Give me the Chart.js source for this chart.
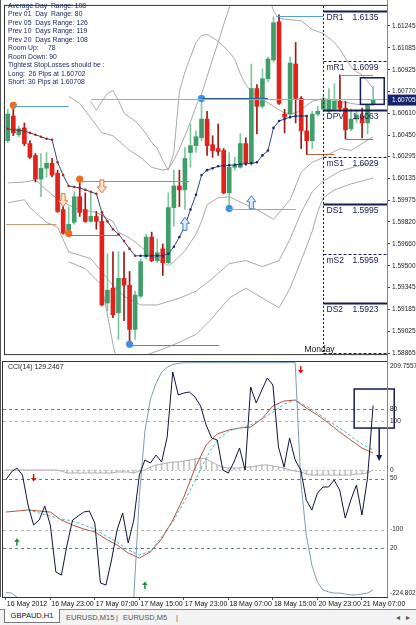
<!DOCTYPE html>
<html>
<head>
<meta charset="utf-8">
<title>GBPAUD,H1</title>
<script src="https://cdn.jsdelivr.net/npm/chart.js@4.4.1/dist/chart.umd.min.js"></script>
<style>
  html, body { margin: 0; padding: 0; background: #fff; }
  #wrap { position: relative; width: 416px; height: 625px; overflow: hidden; font-family: "Liberation Sans", Arial, sans-serif; }
  #priceChart { position: absolute; left: 0; top: 0; }
  #cciChart { position: absolute; left: 0; top: 360px; }
  #info { position: absolute; left: 8px; top: 2px; font-size: 6.8px; line-height: 8.45px; color: #14245a; white-space: pre; }
  #tabs { position: absolute; left: 0; top: 609px; width: 416px; height: 16px; background: #f3f3f3; border-top: 1px solid #8a8a8a; font-size: 7.5px; color: #555; }
  #tabs span { position: absolute; top: 3px; white-space: nowrap; }
  #tabs .active { top: -1px; left: 4px; width: 54px; height: 13px; background: #fff; border: 1px solid #777; border-top: none; color: #111; text-align: center; line-height: 13px; }
</style>
</head>
<body>
<div id="wrap">
  <canvas id="priceChart" width="416" height="360"></canvas>
  <canvas id="cciChart" width="416" height="250"></canvas>
  <div id="info">Average Day  Range: 108
Prev 01  Day  Range: 80
Prev 05  Days Range: 126
Prev 10  Days Range: 119
Prev 20  Days Range: 108
Room Up:     78
Room Down: 90
Tightest StopLosses should be :
Long:  26 Pips at 1.60702
Short: 30 Pips at 1.60708</div>
  <div id="tabs">
    <span class="active">GBPAUD,H1</span>
    <span style="left:66px">EURUSD,M15</span>
    <span style="left:116px">|</span>
    <span style="left:123px">EURUSD,M5</span>
    <span style="left:176px">|</span>
    <span style="left:396px">&#9666;</span>
    <span style="left:406px">&#9656;</span>
  </div>
</div>
<script>
// ---------- data (GBPAUD H1, 16 May 15:00 .. 21 May 10:00) ----------
const barCount = 69; // 67 bars + chart shift
const categories = Array.from({length: barCount}, (_, i) => i);

const xTickBars = [0, 8, 16, 24, 32, 40, 48, 56, 64];
const xTickText = ['16 May 2012', '16 May 23:00', '17 May 07:00', '17 May 15:00', '17 May 23:00',
                   '18 May 07:00', '18 May 15:00', '20 May 23:00', '21 May 07:00'];

const opens = [1.60410,1.60589,1.60453,1.60503,1.60389,1.60303,1.60131,1.60210,1.60246,1.60174,
  1.59910,1.59739,1.59817,1.60003,1.59910,1.59824,1.59860,1.59824,1.59231,1.59339,
  1.59160,1.59410,1.59360,1.59039,1.59281,1.59567,1.59710,1.59539,1.59624,1.59524,
  1.59924,1.60081,1.60053,1.60324,1.60374,1.60431,1.60567,1.60381,1.60353,1.60339,
  1.60031,1.60217,1.60217,1.60389,1.60246,1.60789,1.60660,1.60860,1.60996,1.61274,
  1.60603,1.60603,1.60967,1.60717,1.60481,1.60410,1.60603,1.60639,1.60624,1.60639,
  1.60696,1.60646,1.60496,1.60567,1.60589,1.60539,1.60674];
const highs = [1.60639,1.60667,1.60517,1.60539,1.60410,1.60317,1.60317,1.60324,1.60281,1.60196,
  1.59931,1.59931,1.60039,1.60131,1.60031,1.60031,1.59896,1.59874,1.59589,1.59603,
  1.59603,1.59603,1.59460,1.59317,1.59553,1.59731,1.59746,1.59696,1.59660,1.60031,
  1.60196,1.60196,1.60360,1.60531,1.60481,1.60717,1.60624,1.60446,1.60531,1.60353,
  1.60324,1.60289,1.60460,1.60431,1.60967,1.60817,1.60931,1.61017,1.61310,1.61324,
  1.60639,1.61017,1.61124,1.60731,1.60589,1.60624,1.60660,1.60731,1.60789,1.60824,
  1.60889,1.60696,1.60639,1.60624,1.60646,1.60674,1.60803];
const lows = [1.60396,1.60446,1.60439,1.60374,1.60281,1.60110,1.60003,1.60146,1.60146,1.59889,
  1.59731,1.59717,1.59803,1.59860,1.59817,1.59817,1.59767,1.59210,1.59174,1.59124,
  1.58967,1.59103,1.58931,1.58967,1.59267,1.59553,1.59531,1.59524,1.59431,1.59517,
  1.59789,1.59931,1.59910,1.60217,1.60324,1.60410,1.60303,1.60289,1.60303,1.60024,
  1.59924,1.60196,1.60210,1.60231,1.60231,1.60460,1.60646,1.60839,1.60981,1.60674,
  1.60467,1.60589,1.60539,1.60353,1.60310,1.60353,1.60589,1.60624,1.60610,1.60624,
  1.60624,1.60424,1.60481,1.60539,1.60431,1.60460,1.60667];
const closes = [1.60603,1.60467,1.60496,1.60389,1.60289,1.60131,1.60210,1.60246,1.60160,1.59896,
  1.59739,1.59803,1.60003,1.59889,1.59824,1.59860,1.59824,1.59217,1.59324,1.59146,
  1.59410,1.59360,1.59039,1.59289,1.59531,1.59710,1.59539,1.59596,1.59524,1.59924,
  1.60081,1.60053,1.60281,1.60374,1.60439,1.60567,1.60374,1.60339,1.60331,1.60031,
  1.60217,1.60231,1.60389,1.60246,1.60789,1.60660,1.60860,1.61003,1.61267,1.60681,
  1.60581,1.60974,1.60717,1.60481,1.60410,1.60603,1.60624,1.60710,1.60710,1.60696,
  1.60646,1.60489,1.60567,1.60596,1.60539,1.60674,1.60705];

// trailing line with dots (bars 0..54); red dots while falling
const trailLine = [1.60496,1.60489,1.60485,1.60481,1.60467,1.60453,1.60439,1.60424,1.60417,1.60253,
  1.60160,1.60081,1.60074,1.60067,1.60053,1.60039,1.60024,1.59889,1.59824,1.59767,
  1.59731,1.59681,1.59624,1.59574,1.59574,1.59574,1.59574,1.59574,1.59574,1.59589,
  1.59639,1.59710,1.59789,1.59910,1.60017,1.60160,1.60196,1.60210,1.60224,1.60228,
  1.60231,1.60235,1.60239,1.60242,1.60246,1.60253,1.60303,1.60339,1.60503,1.60553,
  1.60567,1.60581,1.60589,1.60589,1.60589];
const trailTurnBar = 24;

// envelope lines, [bar, price]
const bandUpperA = [[11,1.60731],[13,1.60681],[17,1.60467],[19,1.60446],[22,1.60339],[24,1.60289],[26,1.60217],
  [28,1.60196],[29,1.60203],[30,1.60267],[31,1.60353],[32,1.60446],[33,1.60546],[34,1.60660],[35,1.60746],
  [36,1.60874],[37,1.61003],[38,1.61124],[39,1.61253],[40,1.61374],[41,1.61496]];
const bandUpperC = [[47,1.61481],[48,1.61353],[49,1.61296],[51,1.61289],[53,1.61281],[55,1.61217],[57,1.61189],
  [59,1.61124],[60,1.61074],[62,1.60946],[63,1.60910],[64,1.60889],[65,1.60839],[66,1.60789]];
const bandUpperB = [[15,1.60696],[16,1.60631],[17,1.60696],[18,1.60753],[19,1.60774],[20,1.60703],[21,1.60610],
  [22,1.60581],[23,1.60553],[24,1.60510],[25,1.60460],[26,1.60396],[27,1.60353],[28,1.60267],[29,1.60196],
  [30,1.60324],[31,1.60767],[32,1.60910],[33,1.61017],[34,1.61124],[35,1.61174],[36,1.61181],[37,1.61160],
  [38,1.61131],[39,1.61096],[40,1.61053],[41,1.61003],[42,1.60896],[43,1.60817],[44,1.60767],[45,1.60731],
  [46,1.60710],[48,1.60660],[50,1.60610],[52,1.60610],[53,1.60639],[55,1.60696],[57,1.60717],[60,1.60696],
  [63,1.60674],[66,1.60667]];
const bandLowerA = [[0,1.60103],[3,1.60110],[5,1.60124],[8,1.60017],[10,1.59960],[13,1.59910],[16,1.59889],
  [19,1.59824],[20,1.59746],[22,1.59703],[23,1.59674],[26,1.59574],[29,1.59503],[30,1.59531],[32,1.59610],
  [34,1.59731],[35,1.59824],[36,1.59946],[38,1.59996],[40,1.60003],[43,1.59946],[45,1.59910],[48,1.59839],
  [51,1.59981],[53,1.60181],[55,1.60253],[57,1.60289],[60,1.60353],[62,1.60339],[64,1.60389],[66,1.60439]];
const bandLowerB = [[0,1.59960],[3,1.59981],[4,1.59924],[7,1.59817],[9,1.59781],[11,1.59603],[15,1.59553],
  [19,1.59360],[21,1.59281],[24,1.59217],[27,1.59217],[31,1.59267],[34,1.59317],[37,1.59410],[40,1.59517],
  [43,1.59539],[46,1.59496],[49,1.59539],[51,1.59696],[53,1.59889],[55,1.60039],[57,1.60117],[60,1.60189],
  [63,1.60224],[66,1.60253]];
const bandLowerC = [[11,1.59531],[14,1.59481],[17,1.59360],[19,1.58931],[20,1.58753]];
const bandLowerD = [[25,1.58853],[28,1.58896],[31,1.58946],[34,1.59003],[37,1.59124],[40,1.59267],[43,1.59339],
  [46,1.59267],[49,1.59196],[51,1.59339],[53,1.59539],[55,1.59753],[56,1.59896],[57,1.59996],[59,1.60053],
  [62,1.60096],[66,1.60139]];

// fractal dots
const orangeDotBars = [1, 11, 13];
const orangeDotPrices = [1.60667, 1.59736, 1.60131];
const blueDotBars = [22, 35, 40];
const blueDotPrices = [1.58931, 1.60717, 1.59917];

// level segments from fractals
const segFrom  = [1, 13, 11, -0.3, 22, 35, 40, 48.5, 54, 60, 61, 15.1];
const segTo    = [11, 32.8, 20, 8.8, 38.2, 47, 52, 57, 59, 66, 66, 68.6];
const segPrice = [1.60660, 1.60119, 1.59726, 1.59803, 1.58924, 1.60717, 1.59917, 1.61319, 1.60310, 1.60889, 1.60424, 1.60712];
const segKind  = ['hi', 'hi', 'lo', 'lo2', 'lo', 'hi2', 'lo2', 'hi', 'lo', 'hi3', 'lo', 'bid'];

// signal arrows on price
const arrowBars = [10, 17, 32, 44];
const arrowTips = [1.59931, 1.60031, 1.59853, 1.60010];
const arrowDirs = ['down', 'down', 'up', 'up'];

// daily pivots (Monday)
const separatorBar = 57;
const pivotNames  = ['DR1', 'mR1', 'DPV', 'mS1', 'DS1', 'mS2', 'DS2', 'mS3'];
const pivotValues = [1.6135, 1.6099, 1.6063, 1.6029, 1.5995, 1.5959, 1.5923, 1.5887];
const pivotMain   = [true, false, true, false, true, false, true, false];

const priceTicks = [1.61245, 1.61085, 1.60925, 1.60770, 1.60610, 1.60450, 1.60295, 1.60135,
  1.59975, 1.59820, 1.59660, 1.59500, 1.59345, 1.59185, 1.59025, 1.58865];
const lastPrice = 1.60705;
const boxBars = [63.7, 68.0];
const boxPrices = [1.60867, 1.60674];

// ---------- CCI window ----------
const cciValues = [-8.5,6.3,13.7,0.7,-54.7,-91.7,-82.5,-56.6,-91.7,-178.6,
  -184.2,-128.7,-82.5,-75.1,-67.7,-65.8,-88.0,-198.9,-202.6,-156.4,
  -100.9,-69.5,-125.0,-82.5,0.7,28.5,22.9,37.7,24.8,71.0,
  191.2,148.7,152.4,154.2,145.0,128.4,93.2,69.1,65.5,10.0,
  4.4,24.8,50.7,10.0,163.5,133.9,157.9,180.1,167.2,52.5,
  15.5,69.1,28.5,10.0,-45.5,-64.0,-32.5,-21.4,-21.4,-8.5,
  -27.0,-78.8,-45.5,-17.8,-73.2,-4.8,129.2467];
const cciMaRed = [[0,-67.7],[2,-65.8],[4,-63.9],[6,-65.8],[8,-67.7],[10,-82.5],[12,-91.7],[14,-99.1],[16,-104.6],
  [18,-117.6],[20,-128.7],[22,-143.5],[24,-152.7],[26,-141.6],[28,-117.6],[30,-82.5],[32,-39.9],[34,13.7],
  [36,56.2],[38,76.5],[40,83.9],[42,87.6],[44,89.5],[46,104.3],[48,128.4],[50,137.6],[52,139.4],[54,124.6],
  [56,111.7],[58,96.9],[60,80.2],[62,65.5],[64,50.7],[66,41.4]];
const cciMaCyan = [[4,-63.9],[6,-69.5],[8,-75.1],[10,-80.6],[12,-84.3],[14,-91.7],[16,-99.1],[18,-112.0],
  [20,-123.1],[22,-137.9],[24,-147.2],[26,-139.8],[28,-113.9],[30,-86.2],[32,-49.2],[34,-10.4],[36,32.2],
  [38,65.5],[40,82.1],[42,87.6],[44,93.2],[46,104.3],[48,117.2],[50,132.0],[52,139.4],[54,128.4],[56,115.4],
  [58,100.6],[60,87.6],[62,72.8],[64,58.1],[66,47.0]];
const stochValues = [0.9,0.7,-1.0,-4,-4,-4,-4,-4,-4,-4,
  -4,-4,-4,-4,-4,-4,-4,-4,-4,-4,
  -4,-4,-4,-1.4,42.3,70.6,84.3,91.1,95.9,98.0,
  99.3,99.7,100,100,100,100,100,100,100,100,
  100,100,100,100,100,100,100,100,100,100,
  100,100,100,49.1,25.6,12.7,5.4,2.0,1.2,0.7,
  0.7,0.3,-0.1,-0.1,0.3,0.7,2.0];
const histValues = [0,0,0,0,0,0,0,0,0,0,
  -1,-3,-3,-3,-3,-3,-3,-3,-3,-3,
  -2,-2,-2,-3,-1,0,3,5,6,7,
  8,8,9,10,11,12,11,8,5,3,
  2,2,2,3,3,4,5,5,4,3,
  2,0,-1,-2,-4,-5,-5,-5,-5,-5,
  -5,-5,-5,-4,-4,-3,0];
const cciMax = 209.7557, cciMin = -224.802;
const cciLevels = [100, -100];
const stochLevels = [80, 50, 20];
const cciSignalBars = [5, 53, 2, 25];
const cciSignalValues = [-4.8, 194.9, -122.6, -202.6];
const cciSignalDirs = ['down', 'down', 'up', 'up'];
const cciBoxBars = [62.6, 69.8];
const cciBoxValues = [159.8, 87.6];
const cciArrow = [67.1, 87.6, 28.5];

// ---------- helpers ----------
const FONT = '"Liberation Sans", Arial, sans-serif';
Chart.defaults.font.family = FONT;
const NAVY = '#161d4d';
const segColors = { hi: '#5b9fd0', hi2: '#2b5d92', hi3: '#7d95ab', lo: '#b86a3c', lo2: '#c79b73', bid: '#a9a9a9' };

function hline(ctx, x1, x2, y) { ctx.beginPath(); ctx.moveTo(x1, y); ctx.lineTo(x2, y); ctx.stroke(); }

function hollowArrow(ctx, x, tip, dir, stroke, fill) {
  const s = dir === 'down' ? -1 : 1;
  ctx.beginPath();
  ctx.moveTo(x, tip);
  ctx.lineTo(x - 4.5, tip + s * 6);
  ctx.lineTo(x - 2, tip + s * 6);
  ctx.lineTo(x - 2, tip + s * 13);
  ctx.lineTo(x + 2, tip + s * 13);
  ctx.lineTo(x + 2, tip + s * 6);
  ctx.lineTo(x + 4.5, tip + s * 6);
  ctx.closePath();
  ctx.fillStyle = fill; ctx.fill();
  ctx.strokeStyle = stroke; ctx.lineWidth = 1; ctx.setLineDash([]); ctx.stroke();
}

function smallArrow(ctx, x, y, dir, color) {
  const s = dir === 'down' ? 1 : -1;
  ctx.strokeStyle = color; ctx.fillStyle = color; ctx.lineWidth = 1.5; ctx.setLineDash([]);
  ctx.beginPath(); ctx.moveTo(x, y - s * 4); ctx.lineTo(x, y + s * 1); ctx.stroke();
  ctx.beginPath(); ctx.moveTo(x - 2.8, y); ctx.lineTo(x + 2.8, y); ctx.lineTo(x, y + s * 3.5); ctx.closePath(); ctx.fill();
}

// ---------- price window ----------
const bodyData = opens.map((o, i) => [Math.min(o, closes[i]), Math.max(o, closes[i])]);
const wickData = lows.map((l, i) => [l, highs[i]]);
const isUp = opens.map((o, i) => closes[i] >= o);
const bandSets = [bandUpperA, bandUpperB, bandUpperC, bandLowerA, bandLowerB, bandLowerC, bandLowerD];
const dotsFrom = (bars, prices) => bars.map((b, k) => ({x: b, y: prices[k]}));

const priceOverlay = {
  id: 'priceOverlay',
  afterDatasetsDraw(chart) {
    const {ctx, chartArea: a, scales: {x, y}} = chart;
    ctx.save();
    ctx.beginPath(); ctx.rect(a.left, a.top, a.right - a.left, a.bottom - a.top); ctx.clip();

    // fractal level segments
    segPrice.forEach((p, k) => {
      ctx.strokeStyle = segColors[segKind[k]]; ctx.lineWidth = 1; ctx.setLineDash([]);
      hline(ctx, x.getPixelForValue(segFrom[k]), x.getPixelForValue(segTo[k]), Math.round(y.getPixelForValue(p)) + 0.5);
    });

    // signal arrows
    arrowBars.forEach((b, k) => {
      const down = arrowDirs[k] === 'down';
      hollowArrow(ctx, x.getPixelForValue(b), y.getPixelForValue(arrowTips[k]), arrowDirs[k],
        down ? '#e2762c' : '#3f7fc4', down ? '#fbe5d2' : '#dde9f7');
    });

    // day separator
    const sx = Math.round(x.getPixelForValue(separatorBar)) + 0.5;
    ctx.strokeStyle = '#111'; ctx.lineWidth = 1; ctx.setLineDash([2, 2]);
    ctx.beginPath(); ctx.moveTo(sx, a.top); ctx.lineTo(sx, a.bottom); ctx.stroke();

    // pivots
    ctx.font = '8.5px ' + FONT; ctx.textBaseline = 'middle'; ctx.textAlign = 'left';
    pivotValues.forEach((v, k) => {
      const py = Math.round(y.getPixelForValue(v)) + 0.5;
      ctx.strokeStyle = NAVY;
      ctx.lineWidth = pivotMain[k] ? 2 : 1;
      ctx.setLineDash(pivotMain[k] ? [] : [3, 2]);
      hline(ctx, sx, a.right, py);
      ctx.fillStyle = NAVY;
      ctx.fillText(pivotNames[k], sx + 3, py + 6);
      ctx.fillText(v.toFixed(4), sx + 29, py + 6);
    });
    ctx.fillStyle = '#111'; ctx.textAlign = 'center';
    ctx.fillText('Monday', sx - 4, a.bottom - 4);

    // current box
    ctx.setLineDash([]); ctx.strokeStyle = '#141c55'; ctx.lineWidth = 1.5;
    const bx0 = x.getPixelForValue(boxBars[0]), bx1 = x.getPixelForValue(boxBars[1]);
    const by0 = y.getPixelForValue(boxPrices[0]), by1 = y.getPixelForValue(boxPrices[1]);
    ctx.strokeRect(bx0, by0, bx1 - bx0, by1 - by0);
    ctx.restore();
  },
  afterDraw(chart) {
    const {ctx, chartArea: a, scales: {y}} = chart;
    ctx.save();
    ctx.strokeStyle = '#333'; ctx.lineWidth = 1; ctx.setLineDash([]);
    ctx.strokeRect(a.left - 0.5, a.top - 0.5, a.right - a.left + 1, a.bottom - a.top + 1);
    ctx.strokeStyle = '#7b86a0';
    ctx.beginPath(); ctx.moveTo(a.right + 0.5, 0); ctx.lineTo(a.right + 0.5, chart.height); ctx.stroke();
    ctx.strokeStyle = '#555';
    ctx.beginPath(); ctx.moveTo(0.5, 0); ctx.lineTo(0.5, chart.height); ctx.stroke();
    // last price tag
    const py = y.getPixelForValue(lastPrice);
    ctx.fillStyle = '#15236b';
    ctx.fillRect(a.right + 1, py - 5.5, chart.width - a.right - 1, 11);
    ctx.fillStyle = '#fff'; ctx.font = '6.5px ' + FONT; ctx.textBaseline = 'middle'; ctx.textAlign = 'left';
    ctx.fillText(lastPrice.toFixed(5), a.right + 5, py);
    ctx.restore();
  }
};

new Chart(document.getElementById('priceChart'), {
  type: 'bar',
  data: {
    labels: categories,
    datasets: [
      { type: 'line', data: dotsFrom(orangeDotBars, orangeDotPrices), showLine: false, order: 0,
        pointRadius: 3.2, pointBackgroundColor: '#f26b1d', pointBorderColor: '#f26b1d' },
      { type: 'line', data: dotsFrom(blueDotBars, blueDotPrices), showLine: false, order: 0,
        pointRadius: 3.2, pointBackgroundColor: '#3a8fe6', pointBorderColor: '#3a8fe6' },
      { type: 'line', data: trailLine, order: 1, borderColor: '#2f4a72', borderWidth: 1,
        pointRadius: 1.3, pointBorderWidth: 0,
        pointBackgroundColor: trailLine.map((_, i) => i < trailTurnBar ? '#b3231d' : '#1b2a6e') },
      { data: bodyData, grouped: false, order: 2, barThickness: 4, minBarLength: 1,
        backgroundColor: isUp.map(u => u ? '#3f9e6a' : '#e3211b'), borderWidth: 0 },
      { data: wickData, grouped: false, order: 3, barThickness: 1,
        backgroundColor: isUp.map(u => u ? '#80c79e' : '#9c1a16'), borderWidth: 0 },
      ...bandSets.map(band => ({
        type: 'line', data: band.map(([b, p]) => ({x: b, y: p})), order: 5,
        borderColor: '#a9a9a9', borderWidth: 1, pointRadius: 0, tension: 0
      }))
    ]
  },
  options: {
    responsive: false, animation: false, events: [],
    layout: { padding: { left: 3, top: 3, right: 0, bottom: 3 } },
    plugins: { legend: { display: false }, tooltip: { enabled: false } },
    scales: {
      x: { display: false, offset: true },
      y: {
        position: 'right', min: 1.58860, max: 1.61389,
        afterBuildTicks: s => { s.ticks = priceTicks.map(v => ({value: v})); },
        afterFit: s => { s.width = 29; },
        ticks: { autoSkip: false, padding: 2, color: '#222', font: { size: 6.5 }, callback: v => Number(v).toFixed(5) },
        grid: { drawOnChartArea: false, tickLength: 3, color: '#444' },
        border: { color: '#7b86a0' }
      }
    }
  },
  plugins: [priceOverlay]
});

// ---------- CCI window ----------
const cciOverlay = {
  id: 'cciOverlay',
  beforeDatasetsDraw(chart) {
    const {ctx, chartArea: a, scales: {y, y2, yh}} = chart;
    ctx.save(); ctx.lineWidth = 1;
    ctx.setLineDash([3, 3]); ctx.strokeStyle = '#5d7f8e';
    stochLevels.forEach(v => hline(ctx, a.left, a.right, Math.round(y2.getPixelForValue(v)) + 0.5));
    ctx.strokeStyle = '#b5b5b5';
    cciLevels.forEach(v => hline(ctx, a.left, a.right, Math.round(y.getPixelForValue(v)) + 0.5));
    ctx.setLineDash([2, 2]); ctx.strokeStyle = '#c4c4c4';
    hline(ctx, a.left, a.right, Math.round(yh.getPixelForValue(0)) + 0.5);
    ctx.restore();
  },
  afterDatasetsDraw(chart) {
    const {ctx, chartArea: a, scales: {x, y}} = chart;
    ctx.save();
    cciSignalBars.forEach((b, k) => {
      smallArrow(ctx, x.getPixelForValue(b), y.getPixelForValue(cciSignalValues[k]), cciSignalDirs[k],
        cciSignalDirs[k] === 'down' ? '#d8140f' : '#1f8a43');
    });
    ctx.strokeStyle = '#141c55'; ctx.lineWidth = 1.5; ctx.setLineDash([]);
    const bx0 = x.getPixelForValue(cciBoxBars[0]), bx1 = x.getPixelForValue(cciBoxBars[1]);
    const by0 = y.getPixelForValue(cciBoxValues[0]), by1 = y.getPixelForValue(cciBoxValues[1]);
    ctx.strokeRect(bx0, by0, bx1 - bx0, by1 - by0);
    const ax = x.getPixelForValue(cciArrow[0]);
    const ay0 = y.getPixelForValue(cciArrow[1]), ay1 = y.getPixelForValue(cciArrow[2]);
    ctx.beginPath(); ctx.moveTo(ax, ay0); ctx.lineTo(ax, ay1 - 3); ctx.stroke();
    ctx.fillStyle = '#141c55';
    ctx.beginPath(); ctx.moveTo(ax - 3, ay1 - 5); ctx.lineTo(ax + 3, ay1 - 5); ctx.lineTo(ax, ay1 + 1); ctx.closePath(); ctx.fill();
    ctx.fillStyle = '#222'; ctx.font = '7px ' + FONT; ctx.textBaseline = 'middle'; ctx.textAlign = 'left';
    ctx.fillText('CCI(14) ' + cciValues[cciValues.length - 1].toFixed(4), a.left + 5, a.top + 5);
    ctx.restore();
  },
  afterDraw(chart) {
    const {ctx, chartArea: a, scales: {y, y2, yh}} = chart;
    ctx.save();
    ctx.strokeStyle = '#333'; ctx.lineWidth = 1; ctx.setLineDash([]);
    ctx.strokeRect(a.left - 0.5, a.top - 0.5, a.right - a.left + 1, a.bottom - a.top + 1);
    ctx.strokeStyle = '#7b86a0';
    ctx.beginPath(); ctx.moveTo(a.right + 0.5, 0); ctx.lineTo(a.right + 0.5, a.bottom); ctx.stroke();
    ctx.strokeStyle = '#555';
    ctx.beginPath(); ctx.moveTo(0.5, 0); ctx.lineTo(0.5, a.bottom); ctx.stroke();
    const labels = [
      [cciMax.toFixed(4), a.top + 4],
      [String(stochLevels[0]), y2.getPixelForValue(stochLevels[0])],
      [String(cciLevels[0]), y.getPixelForValue(cciLevels[0])],
      ['0', yh.getPixelForValue(0)],
      [String(stochLevels[1]), y2.getPixelForValue(stochLevels[1])],
      [String(cciLevels[1]), y.getPixelForValue(cciLevels[1])],
      [String(stochLevels[2]), y2.getPixelForValue(stochLevels[2])],
      [cciMin.toFixed(3), a.bottom - 4]
    ];
    ctx.fillStyle = '#222'; ctx.font = '6.5px ' + FONT; ctx.textBaseline = 'middle'; ctx.textAlign = 'left';
    labels.forEach(([t, py]) => { ctx.fillText(t, a.right + 3, py); });
    ctx.restore();
  }
};

new Chart(document.getElementById('cciChart'), {
  type: 'line',
  data: {
    labels: categories,
    datasets: [
      { data: cciValues, yAxisID: 'y', borderColor: '#10143a', borderWidth: 1, pointRadius: 0, order: 0 },
      { data: cciMaRed.map(([b, v]) => ({x: b, y: v})), yAxisID: 'y', borderColor: '#b4533f', borderWidth: 1, pointRadius: 0, order: 2 },
      { data: cciMaCyan.map(([b, v]) => ({x: b, y: v})), yAxisID: 'y', borderColor: '#4fb6c4', borderWidth: 1,
        borderDash: [3, 2], pointRadius: 0, order: 1 },
      { data: stochValues, yAxisID: 'y2', borderColor: '#7e9db0', borderWidth: 1, pointRadius: 0, order: 3 },
      { data: histValues, yAxisID: 'yh', borderColor: '#b0b0b0', borderWidth: 1, pointRadius: 0, order: 4 },
      { type: 'bar', data: histValues, yAxisID: 'yh', backgroundColor: '#c2c2c2', barThickness: 1, order: 5 }
    ]
  },
  options: {
    responsive: false, animation: false, events: [],
    layout: { padding: { left: 3, top: 2, right: 0, bottom: 0 } },
    plugins: { legend: { display: false }, tooltip: { enabled: false } },
    scales: {
      x: {
        offset: true,
        afterFit: s => { s.height = 13; },
        grid: { offset: false, drawOnChartArea: false, tickLength: 3,
                color: c => xTickBars.includes(c.index) ? '#555' : 'rgba(0,0,0,0)' },
        border: { color: '#333' },
        ticks: { autoSkip: false, maxRotation: 0, align: 'start', labelOffset: 1, padding: 0,
                 color: '#111', font: { size: 7 },
                 callback: (v, i) => { const k = xTickBars.indexOf(i); return k >= 0 ? xTickText[k] : ''; } }
      },
      y: {
        position: 'right', min: cciMin, max: cciMax,
        afterFit: s => { s.width = 29; },
        ticks: { display: false }, grid: { display: false },
        border: { color: '#7b86a0' }
      },
      y2: { display: false, min: -1, max: 100.3 },
      yh: { display: false, min: -127, max: 108 }
    }
  },
  plugins: [cciOverlay]
});
</script>
</body>
</html>
